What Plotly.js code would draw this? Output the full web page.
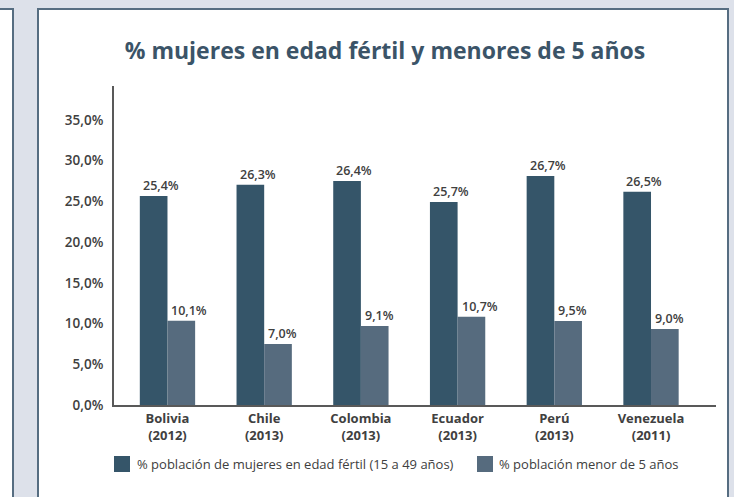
<!DOCTYPE html>
<html><head><meta charset="utf-8">
<script src="https://cdn.plot.ly/plotly-3.0.1.min.js"></script>
<style>
html,body{margin:0;padding:0;background:#dde1ea;width:734px;height:497px;overflow:hidden;position:relative;}
#leftpanel{position:absolute;left:-4px;top:8px;width:14px;height:600px;background:#fff;border:2px solid #566d81;}
#panel{position:absolute;left:37px;top:8px;width:688px;height:600px;background:#fff;border:2px solid #566d81;}
#chart{position:absolute;left:0;top:0;width:734px;height:497px;}
</style></head>
<body>
<div id="leftpanel"></div>
<div id="panel"></div>
<div id="chart"></div>
<script>
// ---- data ----
const countries = ['Bolivia', 'Chile', 'Colombia', 'Ecuador', 'Perú', 'Venezuela'];
const years = ['(2012)', '(2013)', '(2013)', '(2013)', '(2013)', '(2011)'];
const seriesNames = ['% población de mujeres en edad fértil (15 a 49 años)', '% población menor de 5 años'];
// bar heights as drawn in the reference (%)
const fertilHeights = [25.67, 27.03, 27.52, 24.94, 28.13, 26.17];
const menorHeights = [10.36, 7.49, 9.70, 10.85, 10.32, 9.34];
// printed value labels (%)
const fertilLabels = [25.4, 26.3, 26.4, 25.7, 26.7, 26.5];
const menorLabels = [10.1, 7.0, 9.1, 10.7, 9.5, 9.0];
const yTickVals = [0, 5, 10, 15, 20, 25, 30, 35];
const yTickText = ['0,0%', '5,0%', '10,0%', '15,0%', '20,0%', '25,0%', '30,0%', '35,0%'];

// ---- styling / layout ----
const FONT = 'Open Sans, Noto Sans, sans-serif';
const DARK = '#355569', LIGHT = '#566b7e', TXT = '#404040';
const W = 734, H = 497, L = 114, R = 716, T = 86, B = 405;
const px = p => (p - L) / (R - L);
const py = q => (B - q) / (B - T);
const fmt = v => v.toFixed(1).replace('.', ',') + '%';
const cats = countries.map((c, i) => c + '<br>' + years[i]);

const traces = [
  {type: 'bar', x: cats, y: fertilHeights, name: seriesNames[0], marker: {color: DARK}, hoverinfo: 'none'},
  {type: 'bar', x: cats, y: menorHeights, name: seriesNames[1], marker: {color: LIGHT}, hoverinfo: 'none'}
];

const annotations = [];
cats.forEach((c, i) => {
  annotations.push({x: i, y: fertilHeights[i], xref: 'x', yref: 'y', text: fmt(fertilLabels[i]),
    showarrow: false, xanchor: 'left', yanchor: 'bottom', xshift: -26.6, yshift: 0,
    font: {family: FONT, size: 12.5, color: TXT, weight: 600}});
  annotations.push({x: i, y: menorHeights[i], xref: 'x', yref: 'y', text: fmt(menorLabels[i]),
    showarrow: false, xanchor: 'left', yanchor: 'bottom', xshift: 2, yshift: 0,
    font: {family: FONT, size: 12.5, color: TXT, weight: 600}});
});
// manual legend
const legItems = [{sx: 114, tx: 135, color: DARK, name: seriesNames[0]}, {sx: 477, tx: 497, color: LIGHT, name: seriesNames[1]}];
const shapes = [];
legItems.forEach(it => {
  shapes.push({type: 'rect', xref: 'paper', yref: 'paper', x0: px(it.sx), x1: px(it.sx + 16), y0: py(456), y1: py(472),
    fillcolor: it.color, line: {width: 0}});
  annotations.push({xref: 'paper', yref: 'paper', x: px(it.tx), y: py(464), xanchor: 'left', yanchor: 'middle',
    text: it.name, showarrow: false, font: {family: FONT, size: 13, color: TXT, weight: 500}});
});

const layout = {
  width: W, height: H,
  margin: {l: L, r: W - R, t: T, b: H - B, pad: 0},
  paper_bgcolor: 'rgba(0,0,0,0)', plot_bgcolor: 'rgba(0,0,0,0)',
  showlegend: false,
  barmode: 'group', bargap: 0.428, bargroupgap: 0,
  title: {text: '% mujeres en edad fértil y menores de 5 años', x: 385 / W, xanchor: 'center',
    y: 1 - 50.5 / H, yanchor: 'middle', xref: 'container', yref: 'container',
    font: {family: FONT, size: 23, color: '#3b5468', weight: 700}},
  xaxis: {type: 'category', range: [-0.553, 5.672], showline: true, linecolor: '#595959', linewidth: 2,
    ticks: '', showgrid: false, zeroline: false, fixedrange: true,
    tickfont: {family: FONT, size: 13, color: TXT, weight: 700}},
  yaxis: {range: [0, 39.17], showline: true, linecolor: '#595959', linewidth: 2, ticks: '',
    tickvals: yTickVals, ticktext: yTickText, showgrid: false, zeroline: false, fixedrange: true,
    ticklabelstandoff: 6, tickfont: {family: FONT, size: 13.5, color: TXT, weight: 600}},
  annotations: annotations, shapes: shapes
};
Plotly.newPlot('chart', traces, layout, {displayModeBar: false, staticPlot: true});
</script>
</body></html>
